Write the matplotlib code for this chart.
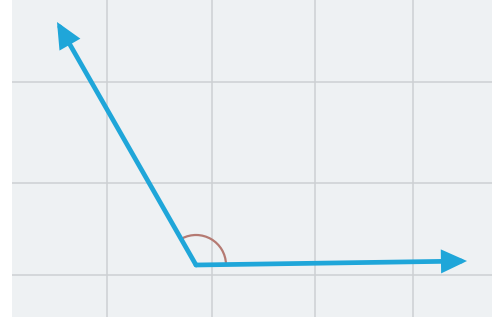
import matplotlib
matplotlib.use("Agg")
import matplotlib.pyplot as plt
from matplotlib.patches import Arc
import numpy as np

# Geometry (pixel-like units of the drawing)
grid_x = [107, 212, 315, 413]
grid_y = [82, 183, 275]
vertex = (196, 265)
left_tip = (57, 22)
right_tip = (467, 261)
arc_radius = 30

ray_color = "#1fa6d9"
arc_color = "#b57a72"
bg_color = "#eef1f3"
grid_color = "#cdd0d3"

fig = plt.figure(figsize=(4.92, 3.2), dpi=100)
fig.patch.set_facecolor("white")
W, H = 492, 320
x0, y1 = 12, 317
ax = fig.add_axes([x0 / W, (H - y1) / H, (W - x0) / W, y1 / H])
ax.set_xlim(x0, W)
ax.set_ylim(y1, 0)
ax.set_facecolor(bg_color)
for s in ax.spines.values():
    s.set_visible(False)
ax.set_xticks(grid_x)
ax.set_yticks(grid_y)
ax.tick_params(length=0, labelbottom=False, labelleft=False)
ax.grid(True, color=grid_color, lw=1.1)

# angle arc
ang = np.degrees(np.arctan2(left_tip[1] - vertex[1], left_tip[0] - vertex[0]))
ax.add_patch(Arc(vertex, 2 * arc_radius, 2 * arc_radius, theta1=ang + 2, theta2=-2,
                 color=arc_color, lw=1.6, zorder=3))

for tip in (left_tip, right_tip):
    ax.annotate("", xy=tip, xytext=vertex,
                arrowprops=dict(arrowstyle="-|>,head_length=1.3,head_width=0.6",
                                color=ray_color, lw=3.4, shrinkA=0, shrinkB=0,
                                joinstyle="miter"),
                zorder=4)

fig.savefig("out.png", dpi=100, facecolor="white")
